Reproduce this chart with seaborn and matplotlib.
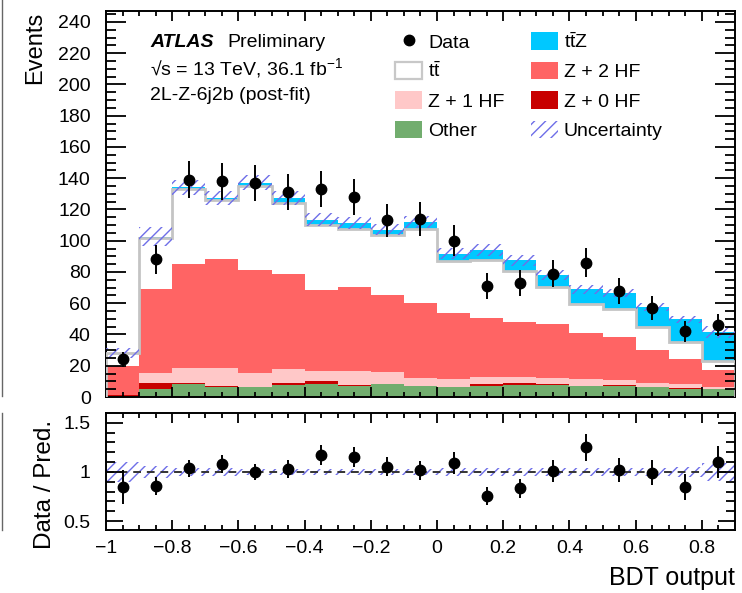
import numpy as np
import pandas as pd
import matplotlib
matplotlib.use("Agg")
import matplotlib.pyplot as plt
import matplotlib.ticker as ticker
from matplotlib.patches import Patch
from matplotlib.lines import Line2D
import seaborn as sns

# BDT output binning: 19 bins of width 0.1 from -1 to 0.9
edges = np.round(np.arange(-1.0, 0.95, 0.1), 2)
centers = (edges[:-1] + edges[1:]) / 2

# post-fit yields per bin
other = [0.8, 4.8, 8.5, 6.5, 6.2, 7.5, 8.5, 7.0, 8.0, 6.8, 6.2, 7.0, 7.9, 7.5, 7.0, 7.2, 6.2, 4.9, 4.9]
z0hf = [0.2, 3.9, 0.3, 0.6, 0.3, 1.2, 1.5, 0.6, 0.2, 0.4, 0.3, 1.0, 0.9, 0.8, 0.3, 0.3, 0.4, 1.1, 0.3]
z1hf = [0.3, 6.4, 10.0, 11.7, 8.6, 9.2, 6.9, 8.8, 7.6, 5.1, 4.8, 5.0, 4.2, 4.0, 4.4, 3.3, 2.1, 2.1, 1.4]
z2hf = [18.5, 53.7, 66.6, 69.2, 66.1, 60.7, 51.5, 54.1, 49.4, 48.0, 42.6, 37.3, 34.7, 34.3, 29.4, 27.7, 21.3, 16.0, 10.7]
ttbar = [8.1, 33.2, 47.9, 37.9, 53.6, 45.8, 41.6, 37.3, 38.3, 47.2, 33.2, 37.2, 33.0, 23.9, 18.7, 17.5, 14.9, 11.2, 5.9]
ttz = [0.3, 0.6, 0.8, 1.5, 2.2, 3.0, 3.5, 3.6, 3.6, 4.5, 4.7, 6.4, 6.8, 7.5, 9.0, 10.7, 12.4, 14.3, 18.5]

data = [24, 88, 139, 138, 137, 131, 133, 128, 113, 114, 100, 71, 73, 79, 86, 68, 57, 42, 46]
data_err = [4.9, 9.4, 11.8, 11.7, 11.7, 11.4, 11.5, 11.3, 10.6, 10.7, 10.0, 8.4, 8.5, 8.9, 9.3, 8.2, 7.5, 6.5, 6.8]

# relative size of the total uncertainty band
unc_rel = [0.105, 0.06, 0.036, 0.036, 0.035, 0.035, 0.035, 0.035, 0.035, 0.035,
           0.04, 0.04, 0.04, 0.04, 0.04, 0.04, 0.045, 0.05, 0.09]

processes = ["ttZ", "ttbar", "Z+2HF", "Z+1HF", "Z+0HF", "Other"]
yields = {"ttZ": ttz, "ttbar": ttbar, "Z+2HF": z2hf, "Z+1HF": z1hf, "Z+0HF": z0hf, "Other": other}
palette = {"ttZ": "#00c8ff", "ttbar": "#ffffff", "Z+2HF": "#ff6464",
           "Z+1HF": "#ffc8c8", "Z+0HF": "#c80000", "Other": "#72ad6e"}
labels = {"ttZ": r"$\mathrm{t\bar{t}Z}$", "ttbar": r"$\mathrm{t\bar{t}}$", "Z+2HF": "Z + 2 HF",
          "Z+1HF": "Z + 1 HF", "Z+0HF": "Z + 0 HF", "Other": "Other"}
hatch_col = "#6e6ee8"

plt.rcParams.update({
    "font.family": ["Liberation Sans", "DejaVu Sans"],
    "mathtext.fontset": "custom",
    "mathtext.rm": "Liberation Sans",
    "hatch.linewidth": 1.0,
    "axes.linewidth": 1.4,
    "xtick.labelsize": 14, "ytick.labelsize": 14,
})

df = pd.concat([pd.DataFrame({"bdt": centers, "events": v, "process": k})
                for k, v in yields.items()], ignore_index=True)

W, H = 742, 593
fig = plt.figure(figsize=(W / 100, H / 100), dpi=100)
ax = fig.add_axes([106 / W, 1 - 397 / H, 629 / W, 386 / H])
rax = fig.add_axes([106 / W, 1 - 530 / H, 629 / W, 117 / H])

# stacked backgrounds
sns.histplot(df, x="bdt", weights="events", hue="process", hue_order=processes,
             bins=[float(e) for e in edges], multiple="stack", element="step",
             palette=palette, alpha=1, linewidth=0, legend=False, ax=ax)

stack = np.array([other, z0hf, z1hf, z2hf, ttbar, ttz])
tt_top = stack[:5].sum(axis=0)
total = stack.sum(axis=0)
ax.stairs(tt_top, edges, color="#c4c4c4", linewidth=2, zorder=3)

unc = total * np.array(unc_rel)
ax.bar(centers, 2 * unc, bottom=total - unc, width=0.1, facecolor="none",
       edgecolor=hatch_col, hatch="///", linewidth=0, zorder=4)
ax.errorbar(centers, data, yerr=data_err, fmt="o", color="black", ms=7.5,
            elinewidth=1.4, capsize=0, zorder=6)

# ratio panel
ratio = np.array(data) / total
ratio_err = np.array(data_err) / total
urel = np.array(unc_rel)
rax.bar(centers, 2 * urel, bottom=1 - urel, width=0.1, facecolor="none",
        edgecolor=hatch_col, hatch="///", linewidth=0, zorder=2)
rax.axhline(1, color="#333333", linestyle=(0, (4, 3)), linewidth=1.4, zorder=3)
rax.errorbar(centers, ratio, yerr=ratio_err, fmt="o", color="black", ms=7.5,
             elinewidth=1.4, capsize=0, zorder=5)

ax.set_xlim(-1, 0.9)
ax.set_ylim(0, 247)
rax.set_xlim(-1, 0.9)
rax.set_ylim(0.41, 1.6)
ax.set_xlabel("")
ax.set_ylabel("")


def inward_ticks(a, axis, major, minor, major_px, minor_px):
    """ROOT-style inward ticks on both sides, drawn as one line per tick size."""
    lo, hi = a.get_xlim() if axis == "x" else a.get_ylim()
    bbox = a.get_position()
    span = (bbox.height * H) if axis == "x" else (bbox.width * W)
    maj = [v for v in major.tick_values(lo, hi) if lo < v < hi]
    mino = [v for v in minor.tick_values(lo, hi)
            if lo < v < hi and not np.isclose(maj, v).any()]
    tr = a.get_xaxis_transform() if axis == "x" else a.get_yaxis_transform()
    for vals, px in ((maj, major_px), (mino, minor_px)):
        f = px / span
        u, w = [], []
        for v in vals:
            u += [v, v, np.nan, v, v, np.nan]
            w += [0, f, np.nan, 1 - f, 1, np.nan]
        xs, ys = (u, w) if axis == "x" else (w, u)
        a.add_line(Line2D(xs, ys, transform=tr, color="#000000", lw=1.3,
                          solid_capstyle="butt", zorder=10, clip_on=False))


fmt = ticker.FuncFormatter(lambda v, _: f"{round(v, 2):g}".replace("-", "\u2212"))
ymaj = {ax: ticker.MultipleLocator(20), rax: ticker.MultipleLocator(0.5)}
ymin = {ax: ticker.MultipleLocator(5), rax: ticker.MultipleLocator(0.1)}
ylen = {ax: (20, 10), rax: (17, 9)}
for a in (ax, rax):
    a.xaxis.set_major_locator(ticker.MultipleLocator(0.2))
    a.xaxis.set_minor_locator(ticker.NullLocator())
    a.yaxis.set_major_locator(ymaj[a])
    a.yaxis.set_minor_locator(ticker.NullLocator())
    a.xaxis.set_major_formatter(fmt)
    a.yaxis.set_major_formatter(fmt)
    a.tick_params(axis="x", which="major", direction="in", length=0, pad=7)
    a.tick_params(axis="y", which="major", direction="in", length=0, pad=11)
    for s in a.spines.values():
        s.set_color("black")
    inward_ticks(a, "x", ticker.MultipleLocator(0.2), ticker.MultipleLocator(0.05), 10, 5)
    inward_ticks(a, "y", ymaj[a], ymin[a], *ylen[a])
ax.tick_params(labelbottom=False)

# axis titles
fig.text(35 / W, 1 - 12 / H, "Events", rotation=90, ha="center", va="top", fontsize=17)
fig.text(45 / W, 1 - 484 / H, "Data / Pred.", rotation=90, ha="center", va="center", fontsize=17.5)
fig.text(735 / W, 1 - 585 / H, "BDT output", ha="right", va="baseline", fontsize=18)

# labels
fig.text(150 / W, 1 - 47 / H, "ATLAS", fontsize=14, fontweight="bold", fontstyle="italic", va="baseline")
fig.text(227 / W, 1 - 47 / H, "Preliminary", fontsize=14, va="baseline")
fig.text(150 / W, 1 - 76 / H, "\u221as = 13 TeV, 36.1 fb$^{-1}$", fontsize=14, va="baseline")
fig.text(150 / W, 1 - 100 / H, "2L-Z-6j2b (post-fit)", fontsize=14, va="baseline")

# legend, filled column by column
handles = [
    Line2D([], [], marker="o", color="black", linestyle="none", ms=7.5),
    Patch(facecolor="white", edgecolor="#c8c8c8", linewidth=1.6),
    Patch(facecolor=palette["Z+1HF"], edgecolor="none"),
    Patch(facecolor=palette["Other"], edgecolor="none"),
    Patch(facecolor=palette["ttZ"], edgecolor="none"),
    Patch(facecolor=palette["Z+2HF"], edgecolor="none"),
    Patch(facecolor=palette["Z+0HF"], edgecolor="none"),
    Patch(facecolor="none", edgecolor=hatch_col, hatch="///", linewidth=0),
]
names = ["Data", labels["ttbar"], labels["Z+1HF"], labels["Other"],
         labels["ttZ"], labels["Z+2HF"], labels["Z+0HF"], "Uncertainty"]
fig.legend(handles, names, loc="upper left", bbox_to_anchor=(395 / W, 1 - 32 / H),
           ncol=2, frameon=False, fontsize=14, borderpad=0, borderaxespad=0,
           handlelength=1.4, handleheight=1.0, handletextpad=0.3,
           columnspacing=1.35, labelspacing=0.52)

# thin frame edge of the neighbouring panel at the far left
fig.add_artist(Line2D([1.5 / W] * 2, [1, 1 - 396 / H], color="#666666", lw=1, transform=fig.transFigure))
fig.add_artist(Line2D([1.5 / W] * 2, [1 - 413 / H, 1 - 530 / H], color="#666666", lw=1, transform=fig.transFigure))

fig.savefig("out.png", dpi=100)
